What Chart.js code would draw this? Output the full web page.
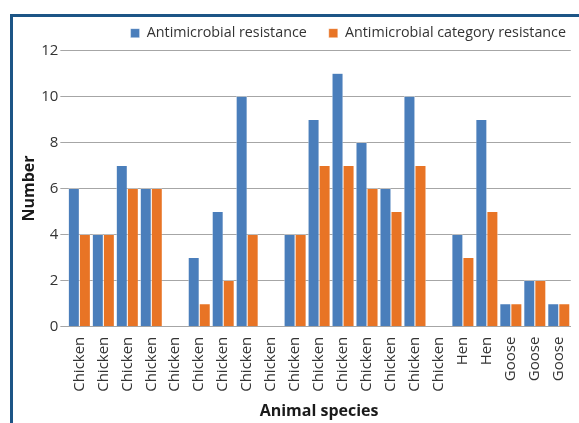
<!DOCTYPE html>
<html>
<head>
<meta charset="utf-8">
<script src="https://cdn.jsdelivr.net/npm/chart.js@4/dist/chart.umd.min.js"></script>
<style>
    html, body { margin: 0; padding: 0; background: #fff; }
    #wrap { position: relative; width: 579px; height: 423px; overflow: hidden; }
    #frame {
        position: absolute; left: 10px; top: 14px; width: 600px; height: 440px;
        border-top: 3px solid #1d5586; border-left: 3px solid #1d5586;
    }
    canvas { position: absolute; left: 0; top: 0; }
</style>
</head>
<body>
<div id="wrap">
    <div id="frame"></div>
    <canvas id="chart" width="579" height="423"></canvas>
</div>
<script>
const species = ['Chicken', 'Chicken', 'Chicken', 'Chicken', 'Chicken', 'Chicken', 'Chicken',
    'Chicken', 'Chicken', 'Chicken', 'Chicken', 'Chicken', 'Chicken', 'Chicken', 'Chicken',
    'Chicken', 'Hen', 'Hen', 'Goose', 'Goose', 'Goose'];
const resistance = [6, 4, 7, 6, 0, 3, 5, 10, 0, 4, 9, 11, 8, 6, 10, 0, 4, 9, 1, 2, 1];
const categoryResistance = [4, 4, 6, 6, 0, 1, 2, 4, 0, 4, 7, 7, 6, 5, 7, 0, 3, 5, 1, 2, 1];
const yTicks = [0, 2, 4, 6, 8, 10, 12];

const textColor = '#333333';
const fontFamily = "'Open Sans', 'Noto Sans', sans-serif";

// nudge the legend a bit right, closer to the plot's right edge
const shiftLegend = {
    id: 'shiftLegend',
    afterLayout(chart) {
        chart.legend.left += 17;
        chart.legend.right += 17;
    }
};

new Chart(document.getElementById('chart'), {
    type: 'bar',
    data: {
        labels: species,
        datasets: [{
            label: 'Antimicrobial resistance',
            data: resistance,
            backgroundColor: '#4a7ebb',
            borderColor: '#ffffff',
            borderWidth: { left: 0.5, right: 0.5, top: 0.5, bottom: 0 }
        }, {
            label: 'Antimicrobial category resistance',
            data: categoryResistance,
            backgroundColor: '#e87425',
            borderColor: '#ffffff',
            borderWidth: { left: 0.5, right: 0.5, top: 0.5, bottom: 0 }
        }]
    },
    options: {
        responsive: false,
        animation: false,
        layout: { padding: { left: 20, right: 8, top: 4, bottom: 0 } },
        datasets: { bar: { categoryPercentage: 0.92, barPercentage: 1.0 } },
        plugins: {
            legend: {
                align: 'end',
                labels: {
                    boxWidth: 9, boxHeight: 9, padding: 22,
                    color: textColor,
                    font: { family: fontFamily, size: 14.3 }
                }
            },
            tooltip: { enabled: false }
        },
        scales: {
            x: {
                grid: { display: false },
                border: { color: '#a6a6a6', width: 1 },
                ticks: {
                    color: textColor, maxRotation: 90, minRotation: 90, autoSkip: false, padding: 2,
                    font: { family: fontFamily, size: 15 }
                },
                title: {
                    display: true, text: 'Animal species', color: '#1a1a1a', padding: { top: 8, bottom: 2 },
                    font: { family: fontFamily, size: 16, weight: 'bold' }
                }
            },
            y: {
                min: yTicks[0],
                max: yTicks[yTicks.length - 1],
                afterBuildTicks: axis => { axis.ticks = yTicks.map(v => ({ value: v })); },
                grid: { color: '#a6a6a6', tickLength: 7 },
                border: { display: false },
                ticks: {
                    color: textColor, padding: 2,
                    font: { family: fontFamily, size: 15 }
                },
                title: {
                    display: true, text: 'Number', color: '#1a1a1a', padding: { top: 0, bottom: 0 },
                    font: { family: fontFamily, size: 16, weight: 'bold' }
                }
            }
        }
    },
    plugins: [shiftLegend]
});
</script>
</body>
</html>
